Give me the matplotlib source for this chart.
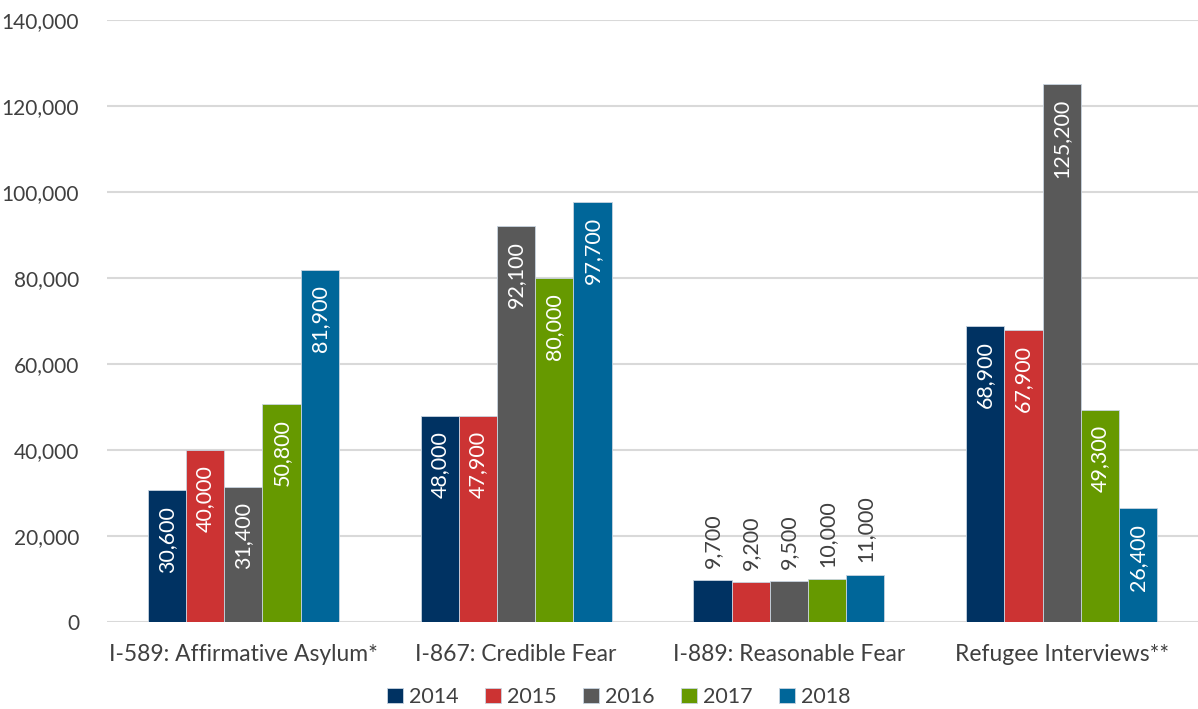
import numpy as np
import matplotlib
matplotlib.use("Agg")
import matplotlib.pyplot as plt
from matplotlib.ticker import FuncFormatter

plt.rcParams['font.family'] = ['Lato', 'DejaVu Sans']

categories = ["I-589: Affirmative Asylum*", "I-867: Credible Fear",
              "I-889: Reasonable Fear", "Refugee Interviews**"]
years = ["2014", "2015", "2016", "2017", "2018"]
v2014 = [30600, 48000, 9700, 68900]
v2015 = [40000, 47900, 9200, 67900]
v2016 = [31400, 92100, 9500, 125200]
v2017 = [50800, 80000, 10000, 49300]
v2018 = [81900, 97700, 11000, 26400]
colors = ["#003262", "#cc3333", "#595959", "#669900", "#006699"]

series = [v2014, v2015, v2016, v2017, v2018]

fig = plt.figure(figsize=(11.98, 7.09), dpi=100)
ax = fig.add_axes([0.0893, 0.1227, 0.9107, 0.8491])

x = np.arange(len(categories))
w = 0.14
text_col = "#404040"

for i, (vals, col, yr) in enumerate(zip(series, colors, years)):
    pos = x + (i - 2) * w
    bars = ax.bar(pos, vals, width=w, color=col, edgecolor="#c8d4e0",
                  linewidth=0.6, label=yr, zorder=3)
    for b, v in zip(bars, vals):
        lbl = f"{v:,}"
        if v < 20000:
            # small bars: label sits above the bar
            ax.annotate(lbl, (b.get_x() + w / 2, v), xytext=(0, 9),
                        textcoords="offset points", ha="center", va="bottom",
                        rotation=90, color=text_col, fontsize=15.5)
        else:
            ax.annotate(lbl, (b.get_x() + w / 2, v), xytext=(0, -11),
                        textcoords="offset points", ha="center", va="top",
                        rotation=90, color="white", fontsize=15.5)

ax.set_xlim(-0.5, 3.5)
ax.set_ylim(0, 140000)
ax.set_yticks(np.arange(0, 140001, 20000))
ax.yaxis.set_major_formatter(FuncFormatter(lambda v, p: f"{int(v):,}"))
ax.set_xticks(x)
ax.set_xticklabels(categories)
ax.tick_params(axis="both", length=0, colors=text_col)
ax.tick_params(axis="x", pad=16, labelsize=16.5)
ax.tick_params(axis="y", pad=20, labelsize=15)
ax.grid(axis="y", color="#d9d9d9", linewidth=1.5, zorder=0)
for s in ax.spines.values():
    s.set_visible(False)

ax.legend(loc="center", bbox_to_anchor=(0.469, -0.1246), ncol=5,
          frameon=False, fontsize=15.5, handlelength=0.75, handleheight=0.75,
          handletextpad=0.3, columnspacing=1.2, labelcolor=text_col,
          borderpad=0)

fig.savefig("out.png", dpi=100)
